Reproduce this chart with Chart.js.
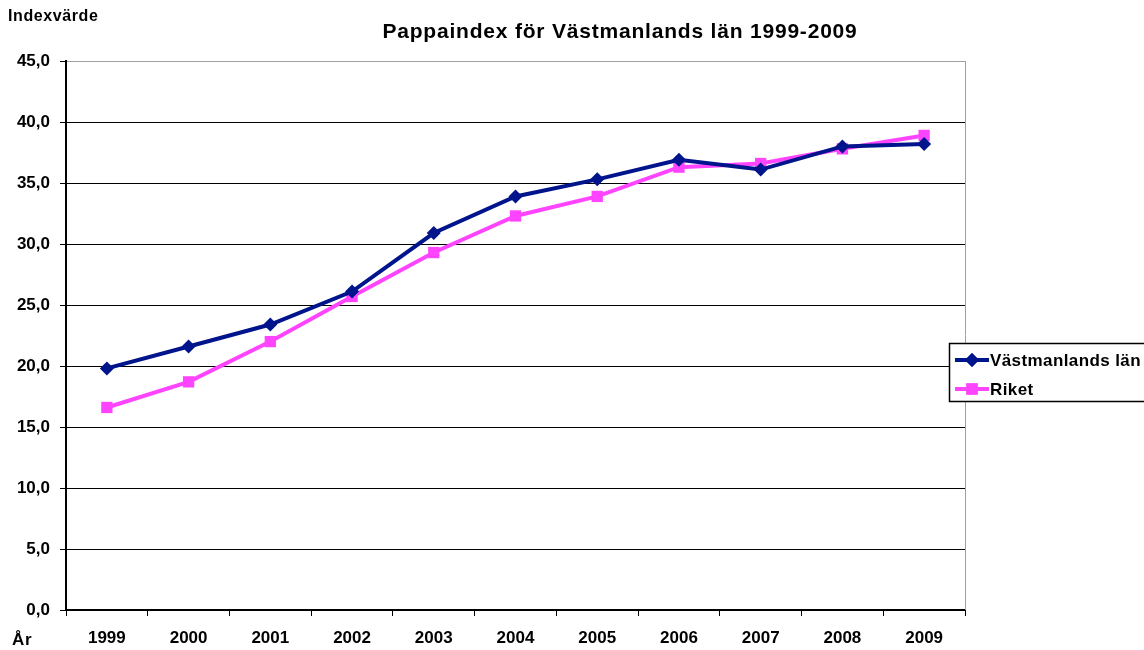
<!DOCTYPE html>
<html>
<head>
<meta charset="utf-8">
<script src="https://cdn.jsdelivr.net/npm/chart.js@4"></script>
<style>
  body { margin: 0; background: #fff; }
  #wrap { width: 1144px; height: 650px; }
</style>
</head>
<body>
<div id="wrap"><canvas id="chart" width="1144" height="650"></canvas></div>
<script>
const years = ['1999', '2000', '2001', '2002', '2003', '2004', '2005', '2006', '2007', '2008', '2009'];
const vastmanland = [19.8, 21.6, 23.4, 26.1, 30.9, 33.9, 35.3, 36.9, 36.1, 38.0, 38.2];
const riket = [16.6, 18.7, 22.0, 25.7, 29.3, 32.3, 33.9, 36.3, 36.6, 37.8, 38.9];

const FONT = '"Liberation Sans", Arial, sans-serif';
const NAVY = '#00148C';
const PINK = '#FF44FF';

// Extra texts, right border and boxed legend
const extras = {
    id: 'extras',
    afterDraw(chart) {
        const c = chart.ctx;
        const area = chart.chartArea;
        c.save();
        // gray right border
        c.strokeStyle = '#a0a0a0';
        c.lineWidth = 1;
        c.beginPath();
        c.moveTo(area.right + 0.5, area.top);
        c.lineTo(area.right + 0.5, area.bottom);
        c.stroke();

        c.fillStyle = '#000';
        c.font = 'bold 16px ' + FONT;
        c.letterSpacing = '0.6px';
        c.textBaseline = 'middle';
        c.textAlign = 'left';
        c.fillText('Indexvärde', 8, 17);
        c.font = 'bold 17px ' + FONT;
        c.fillText('År', 12, 640);
        c.font = 'bold 21px ' + FONT;
        c.letterSpacing = '0.8px';
        c.textAlign = 'center';
        c.fillText('Pappaindex för Västmanlands län 1999-2009', 620, 32);

        // legend (white box covering the plot edge)
        const lx = 949, ly = 343;
        c.fillStyle = '#fff';
        c.fillRect(lx, ly, 220, 59);
        c.strokeStyle = '#000';
        c.lineWidth = 1.5;
        c.strokeRect(lx + 0.5, ly + 0.5, 220, 58);
        const items = [
            { label: 'Västmanlands län', color: NAVY, style: 'rectRot', r: 7, y: 360 },
            { label: 'Riket', color: PINK, style: 'rect', r: 8, y: 389 }
        ];
        c.font = 'bold 17px ' + FONT;
        c.letterSpacing = '0.4px';
        c.textAlign = 'left';
        items.forEach(it => {
            c.strokeStyle = it.color;
            c.lineWidth = 4;
            c.beginPath();
            c.moveTo(lx + 6, it.y);
            c.lineTo(lx + 40, it.y);
            c.stroke();
            c.fillStyle = it.color;
            Chart.helpers.drawPoint(c, { pointStyle: it.style, radius: it.r, borderWidth: 0 }, lx + 23, it.y);
            c.fill();
            c.fillStyle = '#000';
            c.fillText(it.label, lx + 41, it.y + 1);
        });
        c.restore();
    }
};

chart = new Chart(document.getElementById('chart'), {
    type: 'line',
    data: {
        labels: years,
        datasets: [{
            label: 'Västmanlands län',
            data: vastmanland,
            borderColor: NAVY,
            backgroundColor: NAVY,
            borderWidth: 4,
            pointStyle: 'rectRot',
            pointRadius: 7,
            pointBorderWidth: 0,
            tension: 0
        }, {
            label: 'Riket',
            data: riket,
            borderColor: PINK,
            backgroundColor: PINK,
            borderWidth: 4,
            pointStyle: 'rect',
            pointRadius: 8,
            pointBorderWidth: 0,
            tension: 0
        }]
    },
    options: {
        responsive: false,
        animation: false,
        layout: { padding: { left: 0, right: 179, top: 61, bottom: 0 } },
        plugins: { legend: { display: false }, tooltip: { enabled: false } },
        scales: {
            x: {
                offset: true,
                grid: { display: true, offset: true, drawOnChartArea: false, drawTicks: true, tickLength: 6, color: '#000' },
                border: { color: '#000', width: 2 },
                ticks: { color: '#000', font: { family: FONT, size: 17, weight: 'bold' }, padding: 12, maxRotation: 0 },
                afterFit: s => { s.height = 40; }
            },
            y: {
                min: 0,
                max: 45,
                ticks: {
                    stepSize: 5,
                    color: '#000',
                    font: { family: FONT, size: 17, weight: 'bold' },
                    padding: 10,
                    callback: v => v.toFixed(1).replace('.', ',')
                },
                grid: {
                    color: ctx => ctx.tick && ctx.tick.value === 45 ? '#a0a0a0' : '#000',
                    lineWidth: 1,
                    tickLength: 6,
                    tickColor: '#000'
                },
                border: { color: '#000', width: 2 },
                afterFit: s => { s.width = 66; }
            }
        }
    },
    plugins: [extras]
});
</script>
</body>
</html>
